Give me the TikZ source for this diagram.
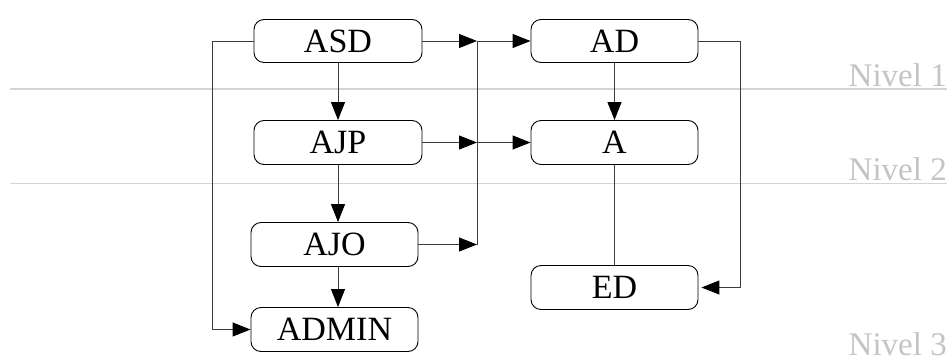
\documentclass[tikz,border=0pt]{standalone}
\usepackage{fontspec}
\setmainfont{Liberation Serif}
\usetikzlibrary{arrows.meta}
\definecolor{levelline}{RGB}{212,212,212}
\definecolor{leveltext}{RGB}{196,196,196}
\definecolor{conn}{RGB}{60,60,60}
\tikzset{
  box/.style={draw=black, line width=0.9pt, rounded corners=10pt, minimum width=167pt, minimum height=44pt, inner sep=0pt, font=\fontsize{34}{40}\selectfont},
  link/.style={draw=conn, line width=1pt},
  arr/.style={link, -{Triangle[length=18pt,width=14pt,color=black]}},
  levelrule/.style={draw=levelline, line width=1.3pt},
  leveltag/.style={text=leveltext, anchor=base east, inner sep=0pt, font=\fontsize{33}{38}\selectfont}
}
\begin{document}
\begin{tikzpicture}[x=1pt,y=-1pt]
\useasboundingbox (0,0) rectangle (950,362);
% level rules and labels
\coordinate (r1a) at (10,89);
\coordinate (r1b) at (947,89);
\coordinate (r2a) at (10,183.5);
\coordinate (r2b) at (947,183.5);
\draw[levelrule] (r1a) -- (r1b);
\draw[levelrule] (r2a) -- (r2b);
\node[leveltag] (n1) at (947,86) {Nivel 1};
\node[leveltag] (n2) at (947,180) {Nivel 2};
\node[leveltag] (n3) at (947,355) {Nivel 3};
% boxes
\node[box, minimum width=168pt, minimum height=43pt] (ASD) at (338,41) {ASD};
\node[box, minimum width=168pt] (AJP) at (338,142.5) {AJP};
\node[box] (AJO) at (334.5,244.5) {AJO};
\node[box] (ADMIN) at (334.5,329.5) {ADMIN};
\node[box, minimum height=43pt] (AD) at (614.5,41) {AD};
\node[box] (A) at (614.5,142.5) {A};
\node[box] (ED) at (614.5,287.5) {ED};
% junctions
\coordinate (L) at (212,41);
\coordinate (J1) at (477,41);
\coordinate (J2) at (477,142.5);
\coordinate (J3) at (477,244.5);
\coordinate (R) at (740,41);
% connectors
\draw[arr] (ASD.west) -- (L) |- (ADMIN.west);
\draw[arr] (ASD.south) -- (AJP.north);
\draw[arr] (AJP.south) -- (AJP.south |- AJO.north);
\draw[arr] (AJP.south |- AJO.south) -- (AJP.south |- ADMIN.north);
\draw[arr] (ASD.east) -- (J1);
\draw[arr] (AJP.east) -- (J2);
\draw[arr] (AJO.east) -- (J3);
\draw[link] (J1) -- (J3);
\draw[arr] (J1) -- (AD.west);
\draw[arr] (J2) -- (A.west);
\draw[arr] (AD.south) -- (A.north);
\draw[link] (A.south) -- (ED.north);
\draw[arr, shorten >=3pt] (AD.east) -- (R) |- (ED.east);
\end{tikzpicture}
\end{document}
